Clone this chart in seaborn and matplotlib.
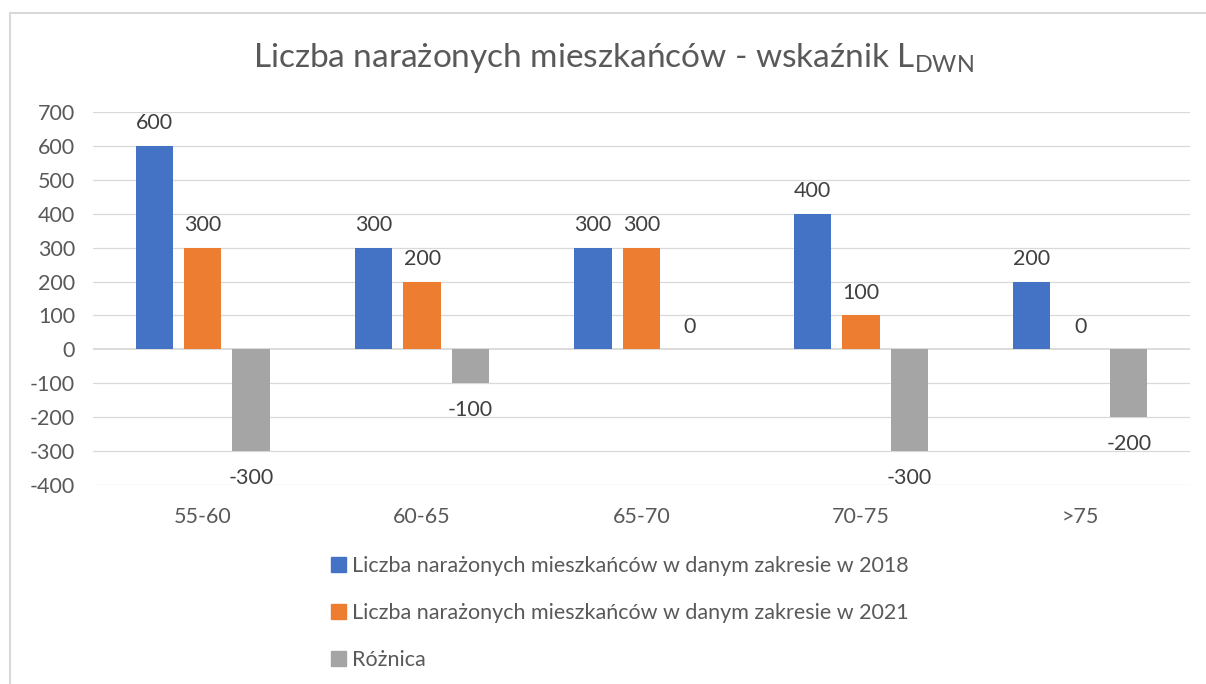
import pandas as pd
import seaborn as sns
import matplotlib.pyplot as plt
from matplotlib.patches import Rectangle

categories = ['55-60', '60-65', '65-70', '70-75', '>75']
series_names = ['Liczba narażonych mieszkańców w danym zakresie w 2018',
                'Liczba narażonych mieszkańców w danym zakresie w 2021',
                'Różnica']
v2018 = [600, 300, 300, 400, 200]
v2021 = [300, 200, 300, 100, 0]
diff = [-300, -100, 0, -300, -200]
colors = ['#4472C4', '#ED7D31', '#A5A5A5']
yticks = list(range(-400, 701, 100))

df = pd.DataFrame({
    'zakres': categories * 3,
    'seria': [series_names[0]] * 5 + [series_names[1]] * 5 + [series_names[2]] * 5,
    'wartosc': v2018 + v2021 + diff,
})

sns.set_style('white')
plt.rcParams['font.family'] = ['Lato', 'DejaVu Sans']
plt.rcParams['mathtext.fontset'] = 'custom'
plt.rcParams['mathtext.rm'] = 'Lato'
txt = '#595959'
grid = '#d9d9d9'
fs = 15.5

fig = plt.figure(figsize=(12.06, 6.84), dpi=100)
ax = fig.add_axes([0.0771, 0.2909, 0.9096, 0.5454])

sns.barplot(data=df, x='zakres', y='wartosc', hue='seria', palette=colors,
            saturation=1, width=0.663, gap=0.23, errorbar=None, legend=False,
            linewidth=0, ax=ax, zorder=3)

ax.set_ylim(-400, 700)
ax.set_xlim(-0.5, 4.5)
ax.set_yticks(yticks)
ax.set_yticklabels([str(t) for t in yticks])
for t in yticks:
    ax.axhline(t, color=grid, lw=1.3 if t == 0 else 0.9, zorder=1)
sns.despine(ax=ax, left=True, bottom=True)
ax.set_xlabel('')
ax.set_ylabel('')
ax.tick_params(axis='x', length=0, pad=16, labelsize=fs, labelcolor=txt)
ax.tick_params(axis='y', length=0, pad=13, labelsize=fs, labelcolor=txt)

for cont in ax.containers:
    for bar in cont:
        h = bar.get_height()
        xc = bar.get_x() + bar.get_width() / 2
        if h < 0:
            ax.annotate(f'{h:.0f}', (xc, h), xytext=(0, -12), textcoords='offset points',
                        ha='center', va='top', fontsize=fs, color='#404040')
        else:
            ax.annotate(f'{h:.0f}', (xc, h), xytext=(0, 9), textcoords='offset points',
                        ha='center', va='bottom', fontsize=fs, color='#404040')

fig.text(0.509, 0.915, r'Liczba narażonych mieszkańców - wskaźnik L$_\mathregular{DWN}$',
         ha='center', va='center', fontsize=24, color=txt)

handles = [Rectangle((0, 0), 1, 1, color=c) for c in colors]
fig.legend(handles, series_names, loc='center', bbox_to_anchor=(0.514, 0.104),
           frameon=False, ncol=1, fontsize=fs, labelcolor=txt,
           handlelength=0.7, handleheight=0.7, handletextpad=0.3, labelspacing=1.25)

fig.patches.append(Rectangle((10 / 1206, -0.1), 1.2, 1 - 13 / 684 + 0.1,
                             transform=fig.transFigure, fill=False,
                             edgecolor=grid, lw=1.5))

fig.savefig('out.png', dpi=100)
